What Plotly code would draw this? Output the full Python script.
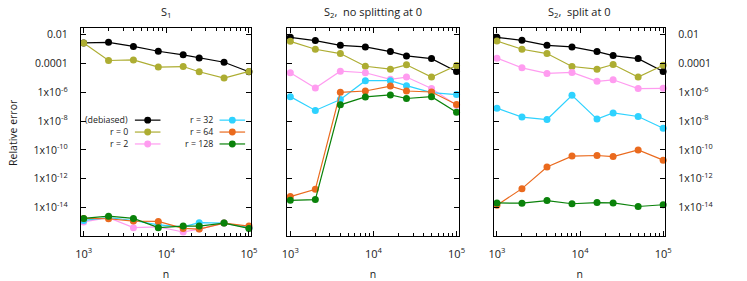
import numpy as np
import plotly.graph_objects as go

# ---------------- data (log10 of relative error) ----------------
n_values = [1000, 2000, 4000, 8000, 16000, 25000, 50000, 100000]
series_names = ["(debiased)", "r = 0", "r = 2", "r = 32", "r = 64", "r = 128"]
series_colors = ["#000000", "#adad32", "#ff9cf0", "#2ed2ff", "#ea6a1e", "#0a820a"]
panel_titles = ["S<sub>1</sub>", "S<sub>2</sub>,  no splitting at 0", "S<sub>2</sub>,  split at 0"]

s1_debiased = [-2.57, -2.53, -2.81, -3.15, -3.40, -3.61, -3.91, -4.57]
s1_r0 = [-2.57, -3.79, -3.75, -4.25, -4.21, -4.57, -5.01, -4.55]
s1_r2 = [-15.0, -14.7, -15.4, -15.35, -15.7, -15.5, -15.08, -15.4]
s1_r32 = [-14.9, -14.7, -14.9, -15.2, -15.35, -15.05, -15.08, -15.4]
s1_r64 = [-14.76, -14.78, -14.94, -14.97, -15.45, -15.50, -15.08, -15.29]
s1_r128 = [-14.76, -14.60, -14.76, -15.40, -15.29, -15.29, -15.08, -15.45]

s2n_debiased = [-2.18, -2.41, -2.74, -2.85, -3.17, -3.47, -3.66, -4.55]
s2n_r0 = [-2.46, -3.01, -3.31, -4.19, -4.39, -4.09, -4.94, -4.14]
s2n_r2 = [-4.64, -5.70, -4.53, -4.64, -5.10, -4.94, -5.74, -6.90]
s2n_r32 = [-6.30, -7.26, -6.50, -5.19, -5.19, -5.54, -6.02, -6.16]
s2n_r64 = [-13.24, -12.74, -6.00, -5.91, -5.57, -5.91, -5.98, -6.85]
s2n_r128 = [-13.50, -13.45, -6.87, -6.32, -6.18, -6.43, -6.30, -7.38]

s2s_debiased = [-2.18, -2.39, -2.74, -2.85, -3.17, -3.45, -3.66, -4.55]
s2s_r0 = [-2.44, -3.01, -3.31, -4.21, -4.39, -4.07, -4.94, -4.12]
s2s_r2 = [-3.63, -4.30, -4.69, -4.62, -5.24, -5.13, -5.74, -5.72]
s2s_r32 = [-7.10, -7.72, -7.89, -6.21, -7.86, -7.43, -7.68, -8.50]
s2s_r64 = [-13.84, -12.69, -11.19, -10.43, -10.39, -10.46, -10.00, -10.71]
s2s_r128 = [-13.68, -13.70, -13.52, -13.74, -13.66, -13.68, -13.93, -13.81]

y_tickvals = [1e-2, 1e-4, 1e-6, 1e-8, 1e-10, 1e-12, 1e-14]
y_ticktext = ["0.01", "0.0001", "1x10<sup>-6</sup>", "1x10<sup>-8</sup>",
              "1x10<sup>-10</sup>", "1x10<sup>-12</sup>", "1x10<sup>-14</sup>"]
x_tickvals = [1e3, 1e4, 1e5]
x_ticktext = ["10<sup>3</sup>", "10<sup>4</sup>", "10<sup>5</sup>"]

panels = [
    [s1_debiased, s1_r0, s1_r2, s1_r32, s1_r64, s1_r128],
    [s2n_debiased, s2n_r0, s2n_r2, s2n_r32, s2n_r64, s2n_r128],
    [s2s_debiased, s2s_r0, s2s_r2, s2s_r32, s2s_r64, s2s_r128],
]

# ---------------- layout geometry ----------------
W, H = 747, 281
FONT = "Open Sans"
FS = 10.5
LEG_FS = 8.8
TXT = "#1a1a1a"


def px(x):
    return x / W


def py(y):
    return 1 - y / H


panel_px = [(76, 249), (286, 460), (496, 670)]
top_px, bot_px = 28, 238

fig = go.Figure()
layout = dict(
    width=W, height=H, margin=dict(l=0, r=0, t=0, b=0),
    paper_bgcolor="white", plot_bgcolor="white", showlegend=False,
    font=dict(family=FONT, size=FS, color=TXT),
)
annotations = []
shapes = []

for i, (vals, (x0, x1)) in enumerate(zip(panels, panel_px)):
    xa = "xaxis" if i == 0 else f"xaxis{i+1}"
    ya = "yaxis" if i == 0 else f"yaxis{i+1}"
    xr = "x" if i == 0 else f"x{i+1}"
    yr = "y" if i == 0 else f"y{i+1}"
    for name, col, v in zip(series_names, series_colors, vals):
        fig.add_trace(go.Scatter(
            x=n_values, y=np.power(10.0, v), mode="lines+markers", name=name,
            line=dict(color=col, width=1.2), marker=dict(color=col, size=7),
            xaxis=xr, yaxis=yr, cliponaxis=False))
    layout[xa] = dict(
        domain=[px(x0), px(x1)], type="log", range=[2.965, 5.025],
        anchor=yr, showgrid=False, zeroline=False,
        showline=True, linecolor="black", linewidth=1, mirror="ticks",
        ticks="inside", ticklen=5, tickcolor="black", tickwidth=1,
        tickvals=x_tickvals, ticktext=x_ticktext,
        tickfont=dict(family=FONT, size=FS + 0.5, color=TXT),
        ticklabelstandoff=7,
        minor=dict(ticks="inside", ticklen=3, tickcolor="black", dtick="D1", showgrid=False),
        title=dict(text="n", font=dict(family=FONT, size=FS, color=TXT), standoff=13),
    )
    layout[ya] = dict(
        domain=[py(bot_px), py(top_px)], type="log", range=[-16, -1.52],
        anchor=xr, showgrid=False, zeroline=False,
        showline=True, linecolor="black", linewidth=1, mirror="ticks",
        ticks="inside", ticklen=5, tickcolor="black", tickwidth=1,
        tickvals=y_tickvals, ticktext=y_ticktext,
        tickfont=dict(family=FONT, size=FS, color=TXT),
        showticklabels=(i != 1), side=("right" if i == 2 else "left"),
        ticklabelstandoff=10,
    )
    annotations.append(dict(
        text=panel_titles[i], x=px((x0 + x1) / 2), y=py(12), xref="paper", yref="paper",
        showarrow=False, xanchor="center", yanchor="middle",
        font=dict(family=FONT, size=FS + 0.5, color=TXT)))

# y axis title
annotations.append(dict(
    text="Relative error", x=px(7), y=py(133), xref="paper", yref="paper",
    showarrow=False, textangle=-90, xanchor="center", yanchor="middle",
    font=dict(family=FONT, size=FS, color=TXT)))

# ---------------- legend (gnuplot style: text then sample) ----------------
leg_rows = [121, 133, 145]
leg_cols = [(126, 131, 157), (212, 217, 243)]
for k, (name, col) in enumerate(zip(series_names, series_colors)):
    c = k // 3
    r = k % 3
    tx, l0, l1 = leg_cols[c]
    yy = leg_rows[r]
    annotations.append(dict(
        text=name, x=px(tx), y=py(yy), xref="paper", yref="paper", showarrow=False,
        xanchor="right", yanchor="middle", font=dict(family=FONT, size=LEG_FS, color=TXT)))
    shapes.append(dict(type="line", xref="paper", yref="paper",
                       x0=px(l0), x1=px(l1), y0=py(yy), y1=py(yy),
                       line=dict(color=col, width=1.2)))
    m = (l0 + l1) / 2
    shapes.append(dict(type="circle", xref="paper", yref="paper",
                       x0=px(m - 3.5), x1=px(m + 3.5), y0=py(yy + 3.5), y1=py(yy - 3.5),
                       fillcolor=col, line=dict(color=col, width=0)))

layout["annotations"] = annotations
layout["shapes"] = shapes
fig.update_layout(**layout)
fig.write_html(
    "out.html",
    config={"displayModeBar": False},
    post_script="document.body.style.margin='0';document.body.style.padding='0';",
)
